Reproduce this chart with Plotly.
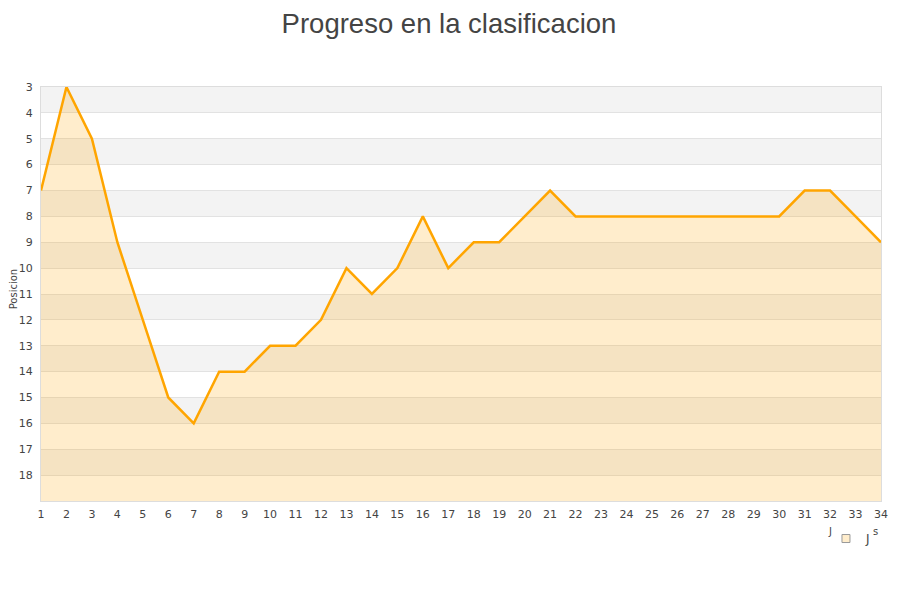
import plotly.graph_objects as go

jornadas = list(range(1, 35))
posicion = [7, 3, 5, 9, 12, 15, 16, 14, 14, 13, 13, 12, 10, 11, 10, 8, 10, 9, 9, 8,
            7, 8, 8, 8, 8, 8, 8, 8, 8, 8, 7, 7, 8, 9]
y_min, y_max = 3, 19
y_ticks = list(range(3, 19))

fig = go.Figure()
fig.add_trace(go.Scatter(x=jornadas, y=[y_max] * len(jornadas), mode="lines",
                         line=dict(width=0), showlegend=False, hoverinfo="skip"))
fig.add_trace(go.Scatter(x=jornadas, y=posicion, mode="lines", fill="tonexty",
                         fillcolor="rgba(255,165,0,0.2)",
                         line=dict(color="#FFA500", width=2.5), name="J",
                         showlegend=False))
fig.add_trace(go.Scatter(x=[None], y=[None], mode="markers", name="J",
                         marker=dict(symbol="square", size=8, color="#FFEDCC",
                                     line=dict(color="#999", width=1)),
                         showlegend=True))

shapes = []
for v in range(y_min, y_max, 2):
    shapes.append(dict(type="rect", xref="paper", yref="y", x0=0, x1=1, y0=v, y1=v + 1,
                       fillcolor="#f3f3f3", line=dict(width=0), layer="below"))
fig.update_layout(
    width=900, height=600,
    paper_bgcolor="white", plot_bgcolor="white",
    margin=dict(l=33, r=27, t=79, b=107, autoexpand=False),
    title=dict(text="Progreso en la clasificacion", x=0.49, xanchor="center", y=0.99, yanchor="top",
               font=dict(family="Liberation Sans, Arial", size=27.5, color="#444")),
    font=dict(family="DejaVu Sans", size=11, color="#444"),
    shapes=shapes,
    showlegend=True,
    legend=dict(x=0.9345, y=-0.0556, xanchor="left", yanchor="top", font=dict(size=12),
                bgcolor="rgba(0,0,0,0)", itemwidth=30),
    xaxis=dict(range=[1, 34], tickmode="array", tickvals=jornadas, showgrid=False,
               zeroline=False, showline=True, linecolor="#ddd", mirror=True, ticks="",
               automargin=False, ticklabelstandoff=3, tickfont=dict(size=11, color="#444")),
    yaxis=dict(range=[y_max, y_min], tickmode="array", tickvals=y_ticks, showgrid=True,
               gridcolor="#e2e2e2", zeroline=False, showline=True, linecolor="#ddd",
               mirror=True, ticks="", automargin=False, ticklabelstandoff=5,
               tickfont=dict(size=11, color="#444")),
)
fig.add_annotation(text="Posicion", xref="paper", yref="paper", x=-0.033, y=0.512,
                   xanchor="center", yanchor="middle",
                   textangle=-90, showarrow=False, font=dict(size=10, color="#444"))
fig.add_annotation(text="J", xref="paper", yref="paper", x=0.9445, y=-0.092, showarrow=False,
                   font=dict(size=10, color="#444"))
fig.add_annotation(text="s", xref="paper", yref="paper", x=0.999, y=-0.092, showarrow=False,
                   font=dict(size=10, color="#444"))
fig.write_html("out.html")
